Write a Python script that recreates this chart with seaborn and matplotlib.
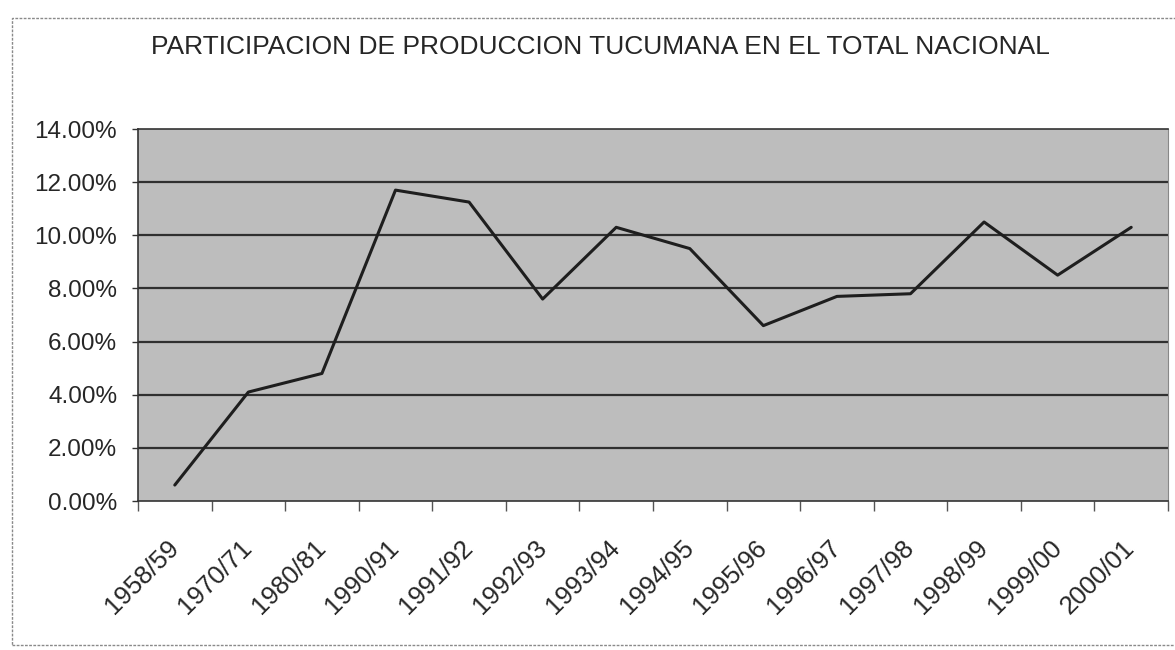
import numpy as np
import pandas as pd
import matplotlib
matplotlib.use("Agg")
import matplotlib.pyplot as plt
import matplotlib.ticker as mticker
from matplotlib.patches import Rectangle
import seaborn as sns

# campañas y participacion (%)
campanias = ["1958/59", "1970/71", "1980/81", "1990/91", "1991/92", "1992/93",
             "1993/94", "1994/95", "1995/96", "1996/97", "1997/98", "1998/99",
             "1999/00", "2000/01"]
participacion = [0.6, 4.1, 4.8, 11.7, 11.25, 7.6, 10.3, 9.5, 6.6, 7.7, 7.8,
                 10.5, 8.5, 10.3]
yticks = [0, 2, 4, 6, 8, 10, 12, 14]
titulo = "PARTICIPACION DE PRODUCCION TUCUMANA EN EL TOTAL NACIONAL"

df = pd.DataFrame({"campania": campanias, "participacion": participacion})

sns.set_style("white")
plt.rcParams["font.family"] = ["Liberation Sans", "DejaVu Sans"]

fig = plt.figure(figsize=(11.75, 6.5), dpi=100)
ax = fig.add_axes([138 / 1175, 1 - 501 / 650, (1168 - 138) / 1175, (501 - 129) / 650])
ax.set_facecolor("#bdbdbd")

for v in yticks[1:-1]:
    ax.axhline(v, color="#303030", lw=1.6, zorder=1)

sns.lineplot(data=df, x="campania", y="participacion", color="#1e1e1e",
             lw=2.2, ax=ax, zorder=3, sort=False)

ax.set_xlim(-0.5, len(campanias) - 0.5)
ax.set_ylim(0, 14)
ax.set_yticks(yticks)
ax.yaxis.set_major_formatter(mticker.FuncFormatter(lambda v, p: f"{v:.2f}%"))
ax.tick_params(axis="y", labelsize=17.5, length=4, width=1, pad=11,
               left=True, color="#333333")

ax.set_xticks(range(len(campanias)))
ax.set_xticklabels(campanias, rotation=45, ha="right", va="center",
                   rotation_mode="anchor", fontsize=18.5)
ax.tick_params(axis="x", length=0, pad=31)
ax.set_xticks(np.arange(-0.5, len(campanias) + 0.5, 1), minor=True)
ax.tick_params(axis="x", which="minor", length=7, width=1, color="#555555",
               bottom=True)
ax.set_xlabel("")
ax.set_ylabel("")

for s in ax.spines.values():
    s.set_color("#333333")
    s.set_linewidth(1.2)
ax.spines["right"].set_color("#888888")
ax.spines["right"].set_linewidth(0.8)

fig.text(600 / 1175, 1 - 47 / 650, titulo, ha="center", va="center",
         fontsize=19)

fig.patches.append(Rectangle((12 / 1175, 1 - 645 / 650), 1.2, (645 - 18) / 650,
                             transform=fig.transFigure, fill=False,
                             ec="#8a8a8a", lw=1, ls=(0, (2, 1))))

fig.savefig("out.png", dpi=100)
